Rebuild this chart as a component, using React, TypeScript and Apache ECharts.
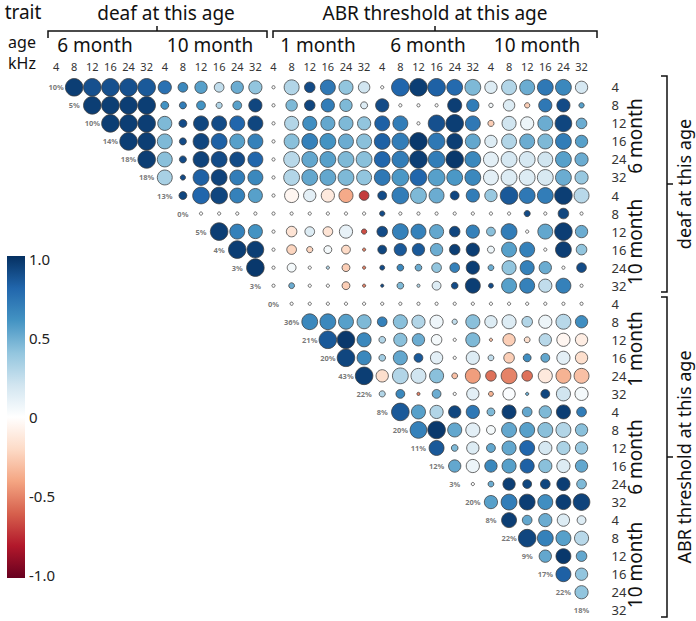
import React, { useEffect, useRef } from "react";
import * as echarts from "echarts";

const freqs = ["4", "8", "12", "16", "24", "32"];
const traitLabels: string[] = [...freqs, ...freqs, ...freqs, ...freqs, ...freqs];
const heritability = [10, 5, 10, 14, 18, 18, 13, 0, 5, 4, 3, 3, 0, 36, 21, 20, 43, 22, 8, 20, 11, 12, 3, 20, 8, 22, 9, 17, 22, 18];

// genetic correlation, row i holds columns j = i+1 .. 29
const corr: number[][] = [
  [0.95, 0.88, 0.88, 0.88, 0.85, 0.75, 0.65, 0.55, 0.25, 0.5, 0.4, 0, 0.3, 0.9, 0.72, 0.4, 0.2, 0, 0.8, 0.95, 0.82, 0.78, 0.45, 0.15, 0.3, 0.5, 0.72, 0.65, 0.18],
  [0.95, 0.95, 0.95, 0.95, 0.6, 0.7, 0.6, 0.3, 0.55, 0.92, 0, 0.45, 0.92, 0.7, 0.45, 0.15, 0.9, 0, 0, 0, 0.95, 0.7, 0.05, 0.15, -0.25, 0.72, 0.9, 0.55],
  [0.95, 0.95, 0.95, 0.45, 0.9, 0.92, 0.9, 0.8, 0.92, 0, 0.3, 0.62, 0.52, 0.45, 0.4, 0.82, 0.7, 0, 0.88, 0.95, 0.72, -0.25, 0.2, 0.08, 0.5, 0.92, 0.5],
  [0.95, 0.95, 0.45, 0.9, 0.92, 0.82, 0.55, 0.68, 0, 0.42, 0.68, 0.6, 0.5, 0.42, 0.82, 0.7, 0.97, 0.72, 0.95, 0.52, 0.15, 0.3, 0.5, 0.45, 0.7, 0.55],
  [0.95, 0.42, 0.9, 0.93, 0.9, 0.9, 0.8, 0, 0.28, 0.52, 0.55, 0.45, 0.42, 0.8, 0.7, 0.95, 0.7, 0.97, 0.65, 0.12, 0.18, 0.18, 0.2, 0.55, 0.5],
  [0.33, 0.9, 0.82, 0.93, 0.7, 0.65, 0, 0.3, 0.52, 0.52, 0.45, 0.4, 0.72, 0.58, 0.8, 0.55, 0.58, 0.65, 0.12, 0.15, 0.15, 0.17, 0.5, 0.38],
  [0.92, 0.8, 0.92, 0.68, 0.55, 0, -0.05, 0.12, -0.12, -0.38, -0.7, 0.9, 0.7, 0.45, 0.5, 0.92, 0.7, 0.38, 0.85, 0.72, 0.7, 0.95, 0.28],
  [0, 0, 0, 0, 0, 0, 0, 0, 0, 0, 0.9, 0, 0, 0, 0, 0, 0, 0, 0.9, 0, 0.92, 0],
  [0.95, 0.68, 0.6, 0, -0.15, 0.15, -0.15, 0.1, -0.65, 0.9, 0.68, 0.68, 0.52, 0.92, 0.68, 0.42, 0.7, 0, 0.52, 0.95, 0.5],
  [0.95, 0.95, 0, -0.22, -0.22, 0.05, -0.2, -0.5, 0.92, 0.85, 0.85, 0.5, 0.95, 0.95, 0.08, 0.55, 0.68, 0, 0.95, 0.4],
  [0.97, 0, 0.05, 0, 0.3, -0.25, -0.5, 0.9, 0.65, 0.5, 0.4, 0.68, 0.95, 0.5, 0.4, 0.68, 0.5, 0, 0.9],
  [0, 0.5, 0, 0, -0.25, -0.5, 0.9, 0.45, 0.3, 0.15, 0.9, 0.95, 0.9, 0.55, 0.68, 0.25, 0.68, 0],
  [0, 0, 0, 0, 0, 0, 0, 0, 0, 0, 0, 0, 0, 0, 0, 0, 0],
  [0.65, 0.65, 0.55, 0.45, 0.68, 0.42, 0.3, 0.07, 0.25, 0.42, 0.15, 0.15, 0.3, 0.08, 0.28, 0.62],
  [0.85, 0.97, 0.65, 0.3, 0.42, 0.5, 0.05, 0, 0.45, -0.3, -0.25, -0.18, 0.28, -0.05, -0.1],
  [0.92, 0.65, 0.35, 0.52, 0.85, 0.12, 0, 0.15, 0.25, -0.25, 0.62, 0.52, 0.12, -0.18],
  [0.95, -0.18, 0.3, 0.2, 0.42, -0.3, -0.42, -0.55, -0.5, -0.55, -0.12, -0.35, -0.3],
  [0.3, 0.65, -0.5, 0.5, 0, 0.12, -0.35, 0.02, 0.5, 0.92, 0.2, 0.05],
  [0.85, 0.55, 0.3, 0.92, 0.72, 0.45, 0.95, 0.52, 0.45, 0.95, 0.7],
  [0.68, 0.97, 0.52, 0.12, 0.05, 0.52, 0.55, 0.42, 0.3, 0.42],
  [0.85, 0.45, 0.15, 0.52, 0.52, 0.8, 0.18, 0.32, 0.38],
  [0.52, 0.08, 0.65, 0.55, 0.82, 0.42, 0.15, 0.52],
  [0, 0.5, 0.95, 0.92, 0.92, 0.95, 0.45],
  [0.55, 0.7, 0.95, 0.62, 0.95, 0.93],
  [0.95, 0.52, 0.5, 0.15, 0.15],
  [0.92, 0.68, 0.55, 0.28],
  [0.52, 0.97, 0.52],
  [0.82, 0.4],
  [0.4],
  [],
];

// confidence weight of each estimate (drives circle size), same layout as corr
const weight: number[][] = [
  [1, 1, 1, 1, 1, 0.75, 0.55, 0.7, 0.55, 0.7, 0.75, 0.12, 0.85, 0.6, 0.85, 0.8, 0.65, 0.12, 1, 1, 1, 0.9, 0.9, 0.7, 0.85, 0.85, 0.9, 0.9, 0.7],
  [1, 1, 1, 1, 0.45, 0.4, 0.5, 0.35, 0.5, 0.75, 0.12, 0.65, 0.6, 0.75, 0.7, 0.4, 0.75, 0.12, 0.12, 0.12, 0.8, 0.7, 0.25, 0.65, 0.3, 0.75, 0.75, 0.3],
  [1, 1, 1, 0.8, 0.45, 0.85, 0.85, 0.85, 0.85, 0.12, 0.8, 0.8, 0.8, 0.8, 0.75, 0.85, 0.85, 0.12, 0.95, 1, 0.85, 0.35, 0.8, 0.75, 0.85, 0.95, 0.6],
  [1, 1, 0.85, 0.4, 0.9, 0.9, 0.85, 0.85, 0.12, 0.85, 0.9, 0.9, 0.85, 0.85, 0.9, 0.95, 1, 0.95, 0.9, 0.85, 0.7, 0.85, 0.85, 0.85, 0.9, 0.7],
  [1, 0.85, 0.4, 0.9, 0.9, 0.85, 0.85, 0.12, 0.9, 0.9, 0.9, 0.9, 0.9, 0.9, 0.95, 1, 0.95, 1, 0.9, 0.85, 0.9, 0.9, 0.85, 0.9, 0.75],
  [0.85, 0.3, 0.9, 0.9, 0.85, 0.85, 0.12, 0.9, 0.9, 0.9, 0.9, 0.85, 0.9, 0.95, 0.95, 0.95, 0.9, 0.9, 0.85, 0.9, 0.9, 0.9, 0.9, 0.75],
  [0.45, 0.95, 0.95, 0.85, 0.8, 0.12, 0.8, 0.7, 0.75, 0.8, 0.55, 0.5, 0.95, 0.9, 0.85, 0.5, 0.75, 0.7, 1, 0.9, 0.9, 1, 0.85],
  [0.12, 0.12, 0.12, 0.12, 0.12, 0.12, 0.12, 0.12, 0.12, 0.12, 0.3, 0.12, 0.12, 0.12, 0.12, 0.12, 0.12, 0.12, 0.35, 0.12, 0.6, 0.12],
  [1, 0.85, 0.8, 0.12, 0.6, 0.55, 0.55, 0.75, 0.3, 0.6, 0.9, 0.85, 0.8, 0.6, 0.75, 0.5, 0.9, 0.12, 0.85, 1, 0.7],
  [1, 0.95, 0.12, 0.55, 0.35, 0.45, 0.5, 0.12, 0.5, 0.7, 0.7, 0.7, 0.6, 0.75, 0.4, 0.85, 0.85, 0.12, 0.9, 0.6],
  [1, 0.12, 0.5, 0.12, 0.12, 0.45, 0.12, 0.28, 0.38, 0.38, 0.55, 0.55, 0.75, 0.33, 0.8, 0.8, 0.7, 0.12, 0.55],
  [0.12, 0.33, 0.12, 0.12, 0.45, 0.12, 0.15, 0.38, 0.15, 0.5, 0.38, 0.85, 0.28, 0.85, 0.85, 0.75, 0.85, 0.12],
  [0.12, 0.12, 0.12, 0.12, 0.12, 0.12, 0.12, 0.12, 0.12, 0.12, 0.12, 0.12, 0.12, 0.12, 0.12, 0.12, 0.12],
  [0.9, 0.9, 0.85, 0.8, 0.55, 0.8, 0.75, 0.75, 0.3, 0.8, 0.7, 0.8, 0.6, 0.75, 0.85, 0.7],
  [1, 1, 0.8, 0.38, 0.75, 0.7, 0.6, 0.12, 0.8, 0.12, 0.7, 0.33, 0.7, 0.75, 0.7],
  [1, 0.8, 0.38, 0.8, 0.5, 0.7, 0.12, 0.75, 0.33, 0.6, 0.45, 0.5, 0.75, 0.7],
  [1, 0.7, 0.9, 0.85, 0.8, 0.33, 0.85, 0.6, 0.9, 0.6, 0.8, 0.85, 0.85],
  [0.35, 0.5, 0.12, 0.5, 0.12, 0.7, 0.28, 0.7, 0.18, 0.5, 0.8, 0.75],
  [1, 0.8, 0.75, 0.7, 0.75, 0.45, 0.8, 0.55, 0.7, 0.8, 0.55],
  [0.95, 1, 0.8, 0.8, 0.5, 0.85, 0.85, 0.85, 0.85, 0.7],
  [0.85, 0.38, 0.7, 0.5, 0.8, 0.85, 0.75, 0.75, 0.7],
  [0.7, 0.75, 0.7, 0.8, 0.8, 0.75, 0.75, 0.7],
  [0.12, 0.33, 0.7, 0.5, 0.55, 0.75, 0.55],
  [0.75, 0.9, 0.9, 0.85, 0.85, 0.95],
  [0.85, 0.55, 0.75, 0.7, 0.5],
  [1, 0.9, 0.85, 0.8],
  [0.7, 0.85, 0.6],
  [0.85, 0.7],
  [0.75],
  [],
];

const legendTicks = [1, 0.5, 0, -0.5, -1];
const legendTickText = ["1.0", "0.5", "0", "-0.5", "-1.0"];
const rdbu = ["#67001F", "#B2182B", "#D6604D", "#F4A582", "#FDDBC7", "#FFFFFF", "#D1E5F0", "#92C5DE", "#4393C3", "#2166AC", "#053061"];

const FONT = "Noto Sans";

export default function App() {
  const ref = useRef<HTMLDivElement>(null);
  useEffect(() => {
    if (!ref.current) return;
    const chart = echarts.init(ref.current, undefined, { renderer: "svg" });
    const cells: number[][] = [];
    corr.forEach((row, i) => {
      row.forEach((r, k) => {
        const j = i + 1 + k;
        cells.push([j, i, r, weight[i][k]]);
      });
    });
    const diag = heritability.map((h, i) => [i, i, h]);
    const idx = traitLabels.map((_, i) => String(i));

    const txt = (text: string, x: number, y: number, size: number, extra: any = {}, lh?: number) => ({
      type: "text",
      x,
      y,
      silent: true,
      ...extra,
      style: { text, fontSize: size, lineHeight: lh ?? size, fontFamily: FONT, fill: "#111", align: "center", verticalAlign: "middle" },
    });
    const line = (pts: number[][]) => ({
      type: "polyline",
      silent: true,
      shape: { points: pts },
      style: { stroke: "#111", lineWidth: 1.5, fill: null },
    });

    const barTop = 256;
    const barBottom = 578;
    const legendY = (v: number) => barBottom - 3 - ((v + 1) / 2) * (barBottom - barTop - 6);

    const graphics: any[] = [
      txt("trait", 23, 12, 19),
      txt("deaf at this age", 166, 13, 19),
      txt("ABR threshold at this age", 435, 13, 19),
      txt("age\nkHz", 22, 52, 16, {}, 21),
      txt("6 month", 95, 45, 19),
      txt("10 month", 210, 45, 19),
      txt("1 month", 318, 45, 19),
      txt("6 month", 428, 45, 19),
      txt("10 month", 537, 45, 19),
      line([[48, 38], [48, 31], [267, 31], [267, 38]]),
      line([[157, 31], [157, 26]]),
      line([[273, 38], [273, 31], [597, 31], [597, 38]]),
      line([[435, 31], [435, 26]]),
      txt("6 month", 635, 136, 19, { rotation: Math.PI / 2 }),
      txt("10 month", 635, 242, 19, { rotation: Math.PI / 2 }),
      txt("1 month", 635, 349, 19, { rotation: Math.PI / 2 }),
      txt("6 month", 635, 457, 19, { rotation: Math.PI / 2 }),
      txt("10 month", 635, 565, 19, { rotation: Math.PI / 2 }),
      line([[661, 76], [667, 76], [667, 292], [661, 292]]),
      line([[667, 184], [673, 184]]),
      line([[661, 297], [667, 297], [667, 617], [661, 617]]),
      line([[667, 457], [673, 457]]),
      txt("deaf at this age", 684, 184, 18, { rotation: Math.PI / 2 }),
      txt("ABR threshold at this age", 684, 457, 18, { rotation: Math.PI / 2 }),
      {
        type: "rect",
        silent: true,
        shape: { x: 7, y: barTop, width: 18, height: barBottom - barTop },
        style: {
          fill: new echarts.graphic.LinearGradient(
            0, 0, 0, 1,
            rdbu.slice().reverse().map((c, k) => ({ offset: k / (rdbu.length - 1), color: c }))
          ),
        },
      },
      ...legendTicks.map((v, k) => ({
        type: "text",
        x: 29,
        y: legendY(v),
        silent: true,
        style: { text: legendTickText[k], fontSize: 15, lineHeight: 15, fontFamily: FONT, fill: "#222", align: "left", verticalAlign: "middle" },
      })),
    ];

    chart.setOption({
      animation: false,
      textStyle: { fontFamily: FONT },
      grid: { left: 47, top: 78.3, width: 543.6, height: 541, containLabel: false },
      xAxis: {
        type: "category",
        data: idx,
        position: "top",
        axisLine: { show: false },
        axisTick: { show: false },
        splitLine: { show: false },
        axisLabel: { interval: 0, fontSize: 11, color: "#333", margin: 6, formatter: (_: string, i: number) => traitLabels[i] },
      },
      yAxis: {
        type: "category",
        data: idx,
        inverse: true,
        position: "right",
        axisLine: { show: false },
        axisTick: { show: false },
        splitLine: { show: false },
        axisLabel: { interval: 0, fontSize: 13, color: "#333", margin: 21, align: "left", formatter: (_: string, i: number) => traitLabels[i] },
      },
      visualMap: {
        show: false,
        type: "continuous",
        min: -1,
        max: 1,
        dimension: 2,
        seriesIndex: 0,
        inRange: { color: rdbu },
      },
      series: [
        {
          type: "scatter",
          data: cells,
          encode: { x: 0, y: 1 },
          symbolSize: (v: number[]) => Math.max(3.2, v[3] * 17.6),
          itemStyle: { borderColor: "rgba(60,60,60,0.85)", borderWidth: 0.9, opacity: 1 },
          emphasis: { disabled: true },
        },
        {
          type: "scatter",
          data: diag,
          encode: { x: 0, y: 1 },
          symbolSize: 1,
          itemStyle: { color: "rgba(0,0,0,0)" },
          label: {
            show: true,
            position: "inside",
            formatter: (p: any) => p.value[2] + "%",
            fontSize: 7.5,
            fontWeight: "bold",
            color: "#555",
            fontFamily: FONT,
          },
          emphasis: { disabled: true },
        },
      ],
      graphic: graphics,
    });
    return () => chart.dispose();
  }, []);
  return <div ref={ref} style={{ position: "absolute", left: 0, top: 0, width: 696, height: 621 }} />;
}
